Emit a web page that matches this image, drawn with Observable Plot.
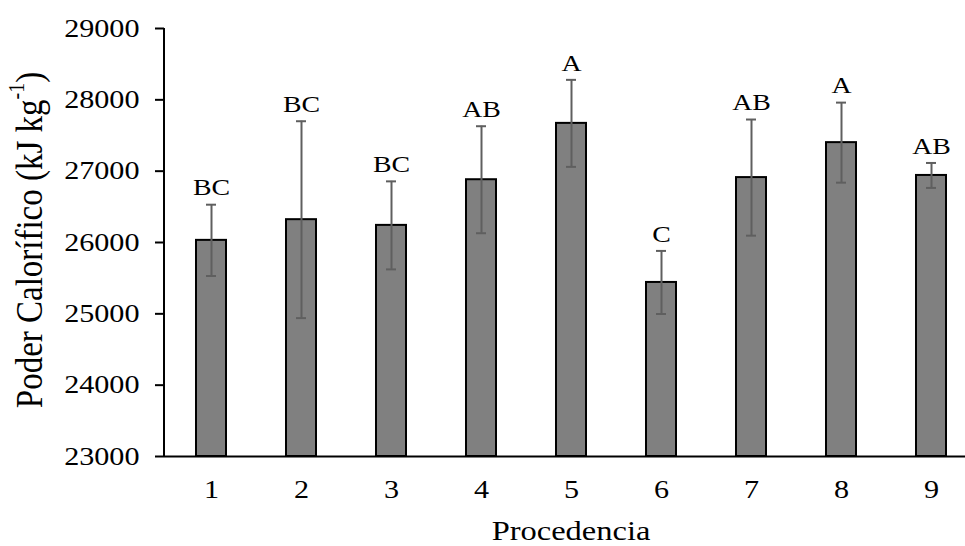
<!DOCTYPE html>
<html>
<head>
<meta charset="utf-8">
<script src="https://cdn.jsdelivr.net/npm/d3@7"></script>
<script src="https://cdn.jsdelivr.net/npm/@observablehq/plot@0.6"></script>
<style>
  html, body { margin: 0; padding: 0; background: #fff; }
  #chart svg { display: block; }
</style>
</head>
<body>
<div id="chart"></div>
<script>
// Data
const procedencia = ["1", "2", "3", "4", "5", "6", "7", "8", "9"];
const poderCalorifico = [26030, 26320, 26240, 26880, 27670, 25440, 26910, 27400, 26940];
const desvio = [500, 1380, 617, 750, 610, 442, 814, 561, 175];
const letras = ["BC", "BC", "BC", "AB", "A", "C", "AB", "A", "AB"];
const yTicks = [23000, 24000, 25000, 26000, 27000, 28000, 29000];

const data = procedencia.map((p, i) => ({
  p,
  v: poderCalorifico[i],
  lo: poderCalorifico[i] - desvio[i],
  hi: poderCalorifico[i] + desvio[i],
  letra: letras[i]
}));

const W = 965, H = 546;
const font = "'Liberation Serif', 'Times New Roman', serif";
const STRETCH = 1.16;

const chart = Plot.plot({
  width: W,
  height: H,
  marginLeft: 164,
  marginRight: 0,
  marginTop: 28,
  marginBottom: 90,
  style: { fontFamily: font, fontSize: "26px", color: "#000", background: "#fff" },
  x: {
    type: "band",
    domain: procedencia,
    range: [164, 978],
    paddingInner: 0.67,
    paddingOuter: 0.335,
    align: 0.5,
    label: null
  },
  y: {
    domain: [23000, 29000],
    ticks: yTicks,
    label: null
  },
  marks: [
    Plot.barY(data, { x: "p", y1: 23000, y2: "v", fill: "#808080", stroke: "#000", strokeWidth: 2 }),
    Plot.ruleX(data, { x: "p", y1: "lo", y2: "hi", stroke: "#5f5f5f", strokeWidth: 2 }),
    Plot.tickY(data, { x: "p", y: "lo", stroke: "#5f5f5f", strokeWidth: 2, inset: 10 }),
    Plot.tickY(data, { x: "p", y: "hi", stroke: "#5f5f5f", strokeWidth: 2, inset: 10 }),
    Plot.text(data, { x: "p", y: "hi", text: "letra", dy: -17, fontSize: 24, fontFamily: font, lineAnchor: "middle", fill: "#000" }),
    Plot.ruleY([23000], { stroke: "#000", strokeWidth: 2 }),
    Plot.axisY({ ticks: yTicks, tickSize: 9, tickPadding: 16, tickFormat: d => String(d), fontSize: 26, fontFamily: font, label: null, stroke: "#000", strokeWidth: 2 }),
    Plot.axisX({ tickSize: 0, tickPadding: 23, fontSize: 26, fontFamily: font, label: null })
  ]
});

document.getElementById("chart").appendChild(chart);

const svg = d3.select(chart);
// widen text horizontally around its anchor point, like the reference
svg.selectAll("text").each(function () {
  const t = this.getAttribute("transform") || "";
  this.setAttribute("transform", (t + ` scale(${STRETCH},1)`).trim());
});

// vertical axis line
svg.append("line")
  .attr("x1", 164).attr("x2", 164)
  .attr("y1", 28).attr("y2", 456)
  .attr("stroke", "#000").attr("stroke-width", 2);

// Axis titles
const yl = svg.append("text")
  .attr("transform", `translate(29,240) scale(${STRETCH},1) rotate(-90)`)
  .attr("text-anchor", "middle")
  .attr("dominant-baseline", "central")
  .attr("font-family", font)
  .attr("font-size", 33)
  .attr("fill", "#000");
yl.append("tspan").text("Poder Calorífico (kJ kg");
yl.append("tspan").attr("baseline-shift", "super").attr("font-size", 20).text("-1");
yl.append("tspan").text(")");

svg.append("text")
  .attr("transform", `translate(571,531) scale(${STRETCH},1)`)
  .attr("text-anchor", "middle")
  .attr("dominant-baseline", "central")
  .attr("font-family", font)
  .attr("font-size", 28)
  .attr("fill", "#000")
  .text("Procedencia");
</script>
</body>
</html>
